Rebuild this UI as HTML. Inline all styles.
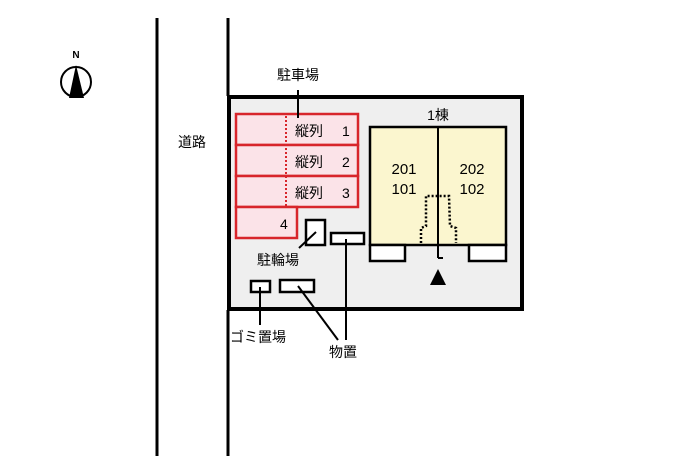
<!DOCTYPE html><html><head><style>body{margin:0;background:#fff}</style></head><body>
<svg width="700" height="466" xmlns="http://www.w3.org/2000/svg" font-family="Liberation Sans, Noto Sans CJK JP, sans-serif">
<rect width="700" height="466" fill="#fff"/>
<line x1="157" y1="18" x2="157" y2="456" stroke="#000" stroke-width="3"/>
<line x1="228" y1="18" x2="228" y2="96" stroke="#000" stroke-width="3"/>
<line x1="228" y1="310" x2="228" y2="456" stroke="#000" stroke-width="3"/>
<text x="192" y="147" font-size="14" text-anchor="middle">道路</text>
<text x="76" y="58" font-size="10" text-anchor="middle" font-weight="bold">N</text>
<circle cx="76" cy="82" r="15" fill="none" stroke="#000" stroke-width="2"/>
<polygon points="76,65 69,98 84,98" fill="#000"/>
<rect x="229" y="97" width="293" height="212" fill="#efefef" stroke="#000" stroke-width="4"/>
<g stroke="#d8252b" stroke-width="2.5" fill="#fbe3e8">
<rect x="236" y="114" width="122" height="31"/>
<rect x="236" y="145" width="122" height="31"/>
<rect x="236" y="176" width="122" height="31"/>
<rect x="236" y="207" width="61" height="31"/>
</g>
<line x1="286" y1="116" x2="286" y2="206" stroke="#d8252b" stroke-width="2" stroke-dasharray="2,2"/>
<g font-size="14" fill="#000">
<text x="295" y="136">縦列</text><text x="342" y="136">1</text>
<text x="295" y="167">縦列</text><text x="342" y="167">2</text>
<text x="295" y="198">縦列</text><text x="342" y="198">3</text>
<text x="280" y="229">4</text>
</g>
<line x1="298" y1="90" x2="298" y2="118" stroke="#000" stroke-width="2"/>
<text x="298" y="80" font-size="14" text-anchor="middle">駐車場</text>
<text x="438" y="120" font-size="14" text-anchor="middle">1棟</text>
<rect x="370" y="127" width="136" height="118" fill="#fbf6cf" stroke="#000" stroke-width="2.5"/>
<line x1="438" y1="127" x2="438" y2="258" stroke="#000" stroke-width="2"/>
<line x1="438" y1="258" x2="443" y2="258" stroke="#000" stroke-width="2"/>
<text x="404" y="174" font-size="15" text-anchor="middle">201</text>
<text x="404" y="194" font-size="15" text-anchor="middle">101</text>
<text x="472" y="174" font-size="15" text-anchor="middle">202</text>
<text x="472" y="194" font-size="15" text-anchor="middle">102</text>
<polyline points="421,243 421,228 426,226 426,196 449,196 450,226 456,228 456,243" fill="none" stroke="#000" stroke-width="2.5" stroke-dasharray="2,2"/>
<rect x="370" y="245" width="35" height="16" fill="#fff" stroke="#000" stroke-width="2.5"/>
<rect x="469" y="245" width="37" height="16" fill="#fff" stroke="#000" stroke-width="2.5"/>
<polygon points="438,269 430,285 446,285" fill="#000"/>
<rect x="306" y="220" width="19" height="25" fill="#fff" stroke="#000" stroke-width="2.5"/>
<rect x="331" y="233" width="33" height="11" fill="#fff" stroke="#000" stroke-width="2.5"/>
<line x1="316" y1="232" x2="299" y2="248" stroke="#000" stroke-width="2"/>
<text x="278" y="265" font-size="14" text-anchor="middle">駐輪場</text>
<rect x="251" y="281" width="19" height="11" fill="#fff" stroke="#000" stroke-width="2.5"/>
<rect x="280" y="280" width="34" height="12" fill="#fff" stroke="#000" stroke-width="2.5"/>
<line x1="260" y1="287" x2="260" y2="325" stroke="#000" stroke-width="2"/>
<text x="258" y="342" font-size="14" text-anchor="middle">ゴミ置場</text>
<line x1="298" y1="286" x2="338" y2="340" stroke="#000" stroke-width="2"/>
<line x1="346" y1="239" x2="346" y2="340" stroke="#000" stroke-width="2"/>
<text x="343" y="357" font-size="14" text-anchor="middle">物置</text>
</svg>
</body></html>
